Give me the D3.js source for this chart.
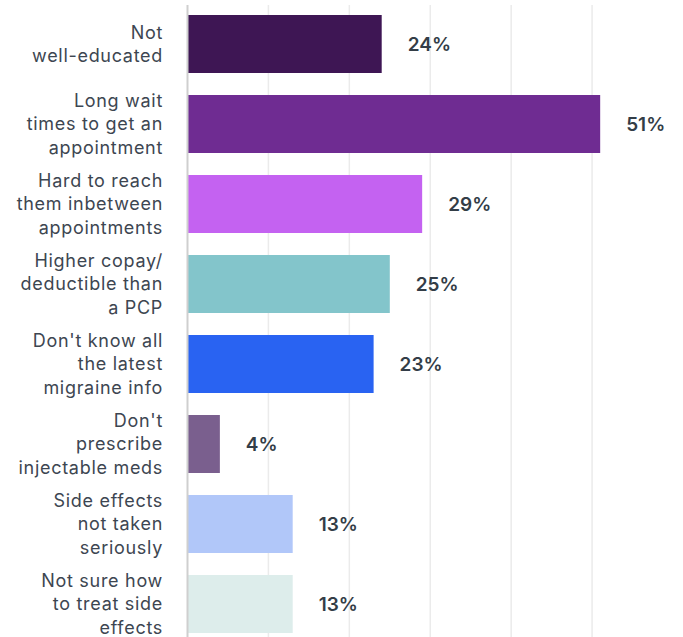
<!DOCTYPE html>
<html>
<head>
<meta charset="utf-8">
<script src="https://cdn.jsdelivr.net/npm/d3@7"></script>
<style>
  html, body { margin: 0; padding: 0; background: #fff; }
  svg { display: block; }
</style>
</head>
<body>
<svg id="chart" width="683" height="637"></svg>
<script>
// Reasons respondents gave, one entry per bar (lines of the wrapped label)
const categories = [
  ["Not", "well-educated"],
  ["Long wait", "times to get an", "appointment"],
  ["Hard to reach", "them inbetween", "appointments"],
  ["Higher copay/", "deductible than", "a PCP"],
  ["Don't know all", "the latest", "migraine info"],
  ["Don't", "prescribe", "injectable meds"],
  ["Side effects", "not taken", "seriously"],
  ["Not sure how", "to treat side", "effects"]
];
const values = [24, 51, 29, 25, 23, 4, 13, 13];
const colors = ["#3e1654", "#6f2c92", "#c462f1", "#83c5cb", "#2963f2", "#7a5f8e", "#b1c7f9", "#ddedeb"];
const gridTicks = [10, 20, 30, 40, 50];

const svg = d3.select("#chart");
const x0 = 187.5;
const x = d3.scaleLinear().domain([0, 60]).range([x0, 673]);
const y = d3.scaleBand()
  .domain(d3.range(categories.length))
  .range([15 - 11, 15 + 80 * 8 - 11])
  .paddingInner(22 / 80)
  .paddingOuter(11 / 80);

// vertical gridlines
svg.append("g")
  .selectAll("line")
  .data(gridTicks)
  .join("line")
  .attr("x1", d => x(d)).attr("x2", d => x(d))
  .attr("y1", 5).attr("y2", 637)
  .attr("stroke", "#ebebeb")
  .attr("stroke-width", 1.5);

// bars
svg.append("g")
  .selectAll("rect")
  .data(values)
  .join("rect")
  .attr("x", x(0))
  .attr("y", (d, i) => y(i))
  .attr("width", d => x(d) - x(0))
  .attr("height", y.bandwidth())
  .attr("fill", (d, i) => colors[i]);

// baseline axis
svg.append("line")
  .attr("x1", x0).attr("x2", x0)
  .attr("y1", 5).attr("y2", 637)
  .attr("stroke", "#cfcfcf")
  .attr("stroke-width", 2);

// category labels, right aligned against the axis
const lineH = 23.5;
const labels = svg.append("g")
  .attr("font-family", "Inter, 'Noto Sans', sans-serif")
  .attr("font-size", 18)
  .attr("letter-spacing", 0.7)
  .attr("fill", "#3d4651")
  .attr("text-anchor", "end");
categories.forEach((lines, i) => {
  const cy = y(i) + y.bandwidth() / 2;
  const t = labels.append("text")
    .attr("x", 163)
    .attr("y", cy - (lines.length - 1) * lineH / 2);
  lines.forEach((s, k) => {
    t.append("tspan").attr("x", 163).attr("dy", k === 0 ? "0.35em" : lineH).text(s);
  });
});

// value labels
svg.append("g")
  .selectAll("text")
  .data(values)
  .join("text")
  .attr("x", d => x(d) + 26)
  .attr("y", (d, i) => y(i) + y.bandwidth() / 2)
  .attr("dy", "0.36em")
  .attr("font-family", "Inter, 'Noto Sans', sans-serif")
  .attr("font-size", 19)
  .attr("font-weight", 600)
  .attr("fill", "#333d47")
  .text(d => d + "%");
</script>
</body>
</html>
